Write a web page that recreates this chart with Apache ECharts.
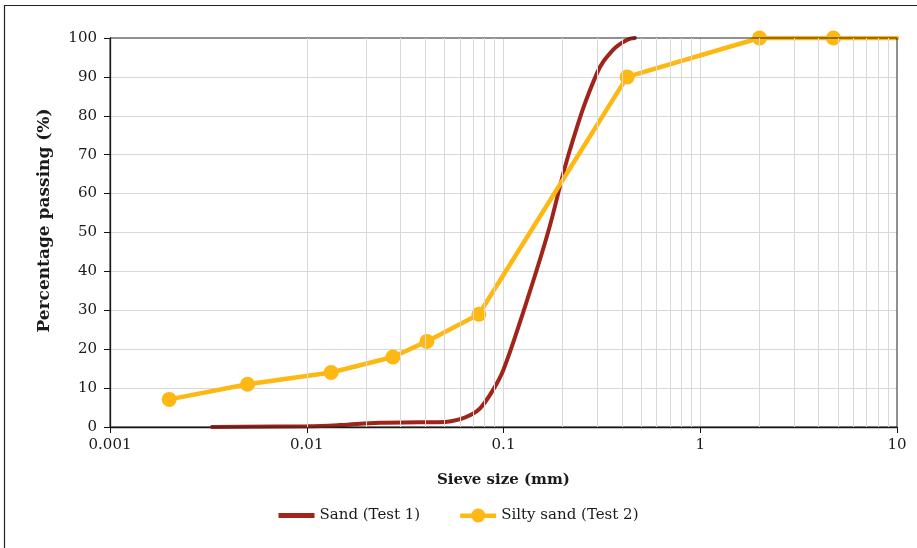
<!DOCTYPE html>
<html>
<head>
<meta charset="utf-8">
<script src="https://cdn.jsdelivr.net/npm/echarts@6/dist/echarts.min.js"></script>
<style>html,body{margin:0;padding:0;background:#fff}#c{width:917px;height:548px}</style>
</head>
<body>
<div id="c"></div>
<script>
// Sand (Test 1) - grain size (mm) and percentage passing
var sandSize = [0.0033, 0.01, 0.0147, 0.0236, 0.0375, 0.0505, 0.060, 0.0675, 0.076, 0.0884, 0.0997, 0.1255, 0.1679, 0.2175, 0.2983, 0.3594, 0.4236, 0.4655];
var sandPassing = [0, 0.2, 0.5, 1.1, 1.2, 1.3, 2.0, 3.0, 4.8, 9.5, 14.6, 29.3, 49.8, 71.2, 90.9, 96.9, 99.5, 100];
// Silty sand (Test 2)
var siltySize = [0.002, 0.005, 0.0133, 0.0274, 0.0408, 0.075, 0.425, 2.0, 4.75, 10];
var siltyPassing = [7.1, 11, 14, 18, 22, 29, 90, 100, 100, 100];
var siltyMarker = [true, true, true, true, true, true, true, true, true, false];
// Axis
var xMinorLines = [];
[0.001, 0.01, 0.1, 1].forEach(function (d) { for (var k = 2; k <= 9; k++) xMinorLines.push(+(d * k).toPrecision(3)); });
var seriesNames = ['Sand (Test 1)', 'Silty sand (Test 2)'];

var font = 'DejaVu Serif';
var txt = '#1a1a1a';
var red = '#A0241A', yellow = '#FDB813';
var chart = echarts.init(document.getElementById('c'), null, {renderer: 'canvas'});
chart.setOption({
  animation: false,
  backgroundColor: '#fff',
  graphic: [{type: 'rect', shape: {x: 4.5, y: 5.5, width: 2000, height: 2000}, style: {fill: 'none', stroke: '#222', lineWidth: 1.2}, z: 0}],
  grid: {left: 110, right: 20, top: 38, bottom: 121, show: true, borderColor: '#222', borderWidth: 1, backgroundColor: 'transparent', z: 5},
  legend: {
    bottom: 20, left: 'center', itemWidth: 36, itemHeight: 14, itemGap: 40,
    textStyle: {fontFamily: font, fontSize: 15, color: txt},
    data: [
      {name: seriesNames[0], icon: 'path://M0,4.5 L36,4.5 L36,9.5 L0,9.5 Z', itemStyle: {color: red}},
      {name: seriesNames[1], icon: 'path://M0,5 L36,5 L36,9.5 L0,9.5 Z M11,7 A7,7 0 1,1 25,7 A7,7 0 1,1 11,7 Z', itemStyle: {color: yellow}}
    ]
  },
  xAxis: {
    type: 'log', logBase: 10, min: 0.001, max: 10, splitNumber: 4,
    name: 'Sieve size (mm)', nameLocation: 'middle', nameGap: 46,
    nameTextStyle: {fontFamily: font, fontSize: 15, fontWeight: 'bold', color: txt},
    axisLine: {show: true, lineStyle: {color: '#111', width: 1.3}},
    axisTick: {show: true, length: 6, lineStyle: {color: '#111'}},
    axisLabel: {fontFamily: font, fontSize: 15, color: txt, margin: 11, formatter: function (v) { return String(+v.toPrecision(3)); }},
    splitLine: {show: true, showMinLine: false, showMaxLine: false, lineStyle: {color: '#d9d9d9', width: 1}}
  },
  yAxis: {
    type: 'value', min: 0, max: 100, interval: 10,
    name: 'Percentage passing (%)', nameLocation: 'middle', nameGap: 57,
    nameTextStyle: {fontFamily: font, fontSize: 17, fontWeight: 'bold', color: txt, padding: [0, 0, 0, 24]},
    axisLine: {show: true, lineStyle: {color: '#111', width: 1.3}},
    axisTick: {show: true, length: 6, lineStyle: {color: '#111'}},
    axisLabel: {fontFamily: font, fontSize: 15, color: txt, margin: 13},
    splitLine: {show: true, showMinLine: false, showMaxLine: false, lineStyle: {color: '#d9d9d9', width: 1}}
  },
  series: [
    {
      name: '_grid', type: 'line', data: [], z: 1, silent: true,
      markLine: {silent: true, symbol: 'none', label: {show: false}, animation: false,
        lineStyle: {color: '#d9d9d9', width: 1, type: 'solid'},
        data: xMinorLines.map(function (v) { return {xAxis: v}; })}
    },
    {
      name: seriesNames[0], type: 'line', smooth: 0.4, symbol: 'none', z: 3,
      lineStyle: {color: red, width: 4, cap: 'round'}, itemStyle: {color: red},
      data: sandSize.map(function (s, i) { return [s, sandPassing[i]]; })
    },
    {
      name: seriesNames[1], type: 'line', symbol: 'circle', symbolSize: 15, z: 4,
      lineStyle: {color: yellow, width: 4.5, cap: 'round'}, itemStyle: {color: yellow},
      data: siltySize.map(function (s, i) {
        return siltyMarker[i] ? [s, siltyPassing[i]] : {value: [s, siltyPassing[i]], symbol: 'none'};
      })
    }
  ]
});
</script>
</body>
</html>
